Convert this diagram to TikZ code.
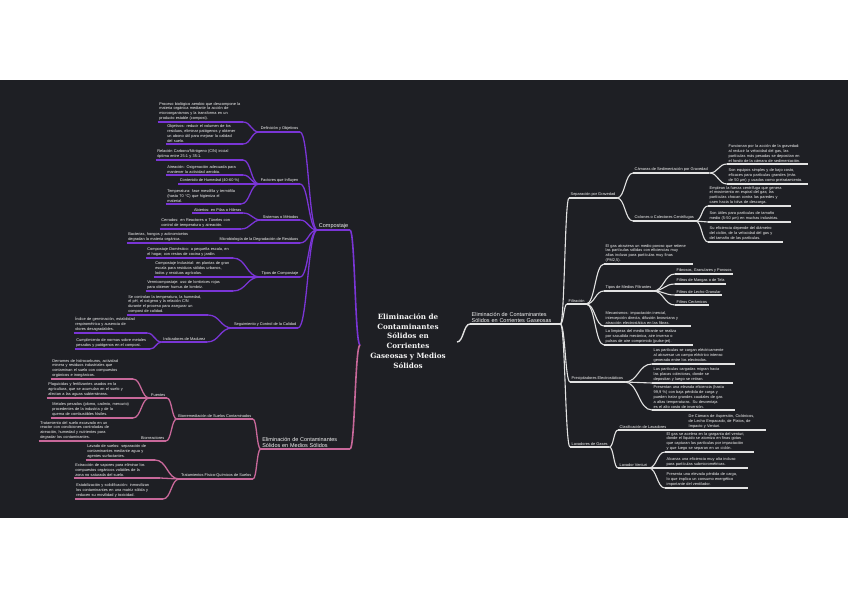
\documentclass[tikz,border=0pt]{standalone}
\usepackage{fontspec}
\newfontfamily\smallf{Liberation Sans}
\newfontfamily\titlef{DejaVu Serif}
\usetikzlibrary{calc}
\definecolor{bgc}{HTML}{1E1F24}
\definecolor{pcol}{HTML}{7A35D6}
\definecolor{kcol}{HTML}{C8689A}
\definecolor{wcol}{HTML}{E2E2E2}
\definecolor{txt}{HTML}{F5F5F5}
\newcommand\conn[3]{\draw[#1] let \p1=(#2), \p2=(#3), \n1={0.5*(\x2-\x1)}, \n2={-0.5*(\x2-\x1)} in (\p1) .. controls +(\n1,0pt) and +(\n2,0pt) .. (\p2);}
\begin{document}
\begin{tikzpicture}[x=1pt,y=-1pt,
  base/.style={font=\smallf\fontsize{3.9}{4.9}\selectfont, text=txt, inner xsep=1.5pt, inner ysep=1.2pt, align=left},
  rn/.style={base, anchor=south west},
  ln/.style={base, anchor=south east},
  big/.style={font=\smallf\fontsize{5.5}{5.9}\selectfont},
  title/.style={font=\titlef\bfseries\fontsize{7.2}{9.8}\selectfont, text=txt, align=center, inner sep=0pt},
  wl/.style={draw=wcol, line width=1.1pt},
  pl/.style={draw=pcol, line width=1.3pt},
  kl/.style={draw=kcol, line width=1.3pt},
  wm/.style={draw=wcol, line width=1.4pt},
  pm/.style={draw=pcol, line width=1.6pt},
  km/.style={draw=kcol, line width=1.6pt}]
\useasboundingbox (0,0) rectangle (848,599);
\fill[white] (0,0) rectangle (848,599);
\fill[bgc] (0,80) rectangle (848,518);

% title
\node[title] (T) at (408,341) {Eliminación de\\Contaminantes\\Sólidos en\\Corrientes\\Gaseosas y Medios\\Sólidos};
\coordinate (TR) at (457,342);
\coordinate (TL) at (360,345);

% ---------------- right side
\node[rn,big,text width=87pt] (R0) at (470,324) {Eliminación de Contaminantes\\Sólidos en Corrientes Gaseosas};
\node[rn] (R1) at (569,198) {Separación por Gravedad};
\node[rn] (R1a) at (633,173) {Cámaras de Sedimentación por Gravedad};
\node[rn,text width=78pt] (R1a1) at (727,164) {Funcionan por la acción de la gravedad:\\al reducir la velocidad del gas, las\\partículas más pesadas se depositan en\\el fondo de la cámara de sedimentación.};
\node[rn,text width=78pt] (R1a2) at (727,184) {Son equipos simples y de bajo costo,\\eficaces para partículas grandes (más\\de 50 µm) y usados como pretratamiento.};
\node[rn] (R1b) at (633,221) {Ciclones o Colectores Centrífugos};
\node[rn,text width=80pt] (R1b1) at (708,206) {Emplean la fuerza centrífuga que genera\\el movimiento en espiral del gas; las\\partículas chocan contra las paredes y\\caen hacia la tolva de descarga.};
\node[rn,text width=80pt] (R1b2) at (708,222) {Son útiles para partículas de tamaño\\medio (5-50 µm) en muchas industrias.};
\node[rn,text width=72pt] (R1b3) at (708,242) {Su eficiencia depende del diámetro\\del ciclón, de la velocidad del gas y\\del tamaño de las partículas.};

\node[rn] (R2) at (567,304) {Filtración};
\node[rn,text width=86pt] (R2a) at (604,264) {El gas atraviesa un medio poroso que retiene\\las partículas sólidas con eficiencias muy\\altas incluso para partículas muy finas\\(PM2,5).};
\node[rn] (R2b) at (604,291) {Tipos de Medios Filtrantes};
\node[rn] (R2b1) at (675,274) {Fibrosos, Granulares y Porosos};
\node[rn] (R2b2) at (675,284) {Filtros de Mangas o de Tela};
\node[rn] (R2b3) at (675,295) {Filtros de Lecho Granular};
\node[rn] (R2b4) at (675,305) {Filtros Cerámicos};
\node[rn,text width=84pt] (R2c) at (604,326) {Mecanismos: impactación inercial,\\intercepción directa, difusión browniana y\\atracción electrostática en las fibras.};
\node[rn,text width=86pt] (R2d) at (604,345) {La limpieza del medio filtrante se realiza\\por sacudida mecánica, aire inverso o\\pulsos de aire comprimido (pulse-jet).};

\node[rn] (R3) at (570,382) {Precipitadores Electrostáticos};
\node[rn,text width=80pt] (R3a) at (652,364) {Las partículas se cargan eléctricamente\\al atravesar un campo eléctrico intenso\\generado entre los electrodos.};
\node[rn,text width=78pt] (R3b) at (652,383) {Las partículas cargadas migran hacia\\las placas colectoras, donde se\\depositan y luego se retiran.};
\node[rn,text width=80pt] (R3c) at (652,410) {Presentan una elevada eficiencia (hasta\\99,9 \%) con baja pérdida de carga y\\pueden tratar grandes caudales de gas\\a altas temperaturas. Su desventaja\\es el alto costo de inversión.};

\node[rn] (R4) at (570,447) {Lavadores de Gases};
\node[rn] (R4a) at (618,430) {Clasificación de Lavadores};
\node[rn,text width=76pt] (R4a1) at (687,430) {De Cámara de Aspersión, Ciclónicos,\\de Lecho Empacado, de Platos, de\\Impacto y Venturi.};
\node[rn] (R4b) at (618,468) {Lavador Venturi};
\node[rn,text width=86pt] (R4b1) at (665,452) {El gas se acelera en la garganta del venturi,\\donde el líquido se atomiza en finas gotas\\que capturan las partículas por impactación\\y que luego se separan en un ciclón.};
\node[rn,text width=80pt] (R4b2) at (665,468) {Alcanza una eficiencia muy alta incluso\\para partículas submicrométricas.};
\node[rn,text width=80pt] (R4b3) at (665,488) {Presenta una elevada pérdida de carga,\\lo que implica un consumo energético\\importante del ventilador.};

% ---------------- left side: Compostaje
\node[ln,big] (L1) at (350,230) {Compostaje};
\node[ln] (L1a) at (300,132) {Definición y Objetivos};
\node[ln,text width=82pt] (L1a1) at (243,122) {Proceso biológico aerobio que descompone la\\materia orgánica mediante la acción de\\microorganismos y la transforma en un\\producto estable (compost).};
\node[ln,text width=74pt] (L1a2) at (243,144) {Objetivos: reducir el volumen de los\\residuos, eliminar patógenos y obtener\\un abono útil para mejorar la calidad\\del suelo.};
\node[ln] (L1b) at (300,184) {Factores que Influyen};
\node[ln,text width=84pt] (L1b1) at (243,160) {Relación Carbono/Nitrógeno (C/N) inicial\\óptima entre 25:1 y 35:1.};
\node[ln,text width=74pt] (L1b2) at (243,175) {Aireación: Oxigenación adecuada para\\mantener la actividad aerobia.};
\node[ln] (L1b3) at (241,184) {Contenido de Humedad (40-60 \%)};
\node[ln,text width=72pt] (L1b4) at (241,204) {Temperatura: fase mesófila y termófila\\(hasta 70 °C) que higieniza el\\material.};
\node[ln] (L1c) at (300,220) {Sistemas o Métodos};
\node[ln] (L1c1) at (243,213) {Abiertos: en Pilas o Hileras};
\node[ln,text width=78pt] (L1c2) at (241,229) {Cerrados: en Reactores o Túneles con\\control de temperatura y aireación.};
\node[ln] (L1d) at (300,243) {Microbiología de la Degradación de Residuos};
\node[ln,text width=78pt] (L1d1) at (208,243) {Bacterias, hongos y actinomicetos\\degradan la materia orgánica.};
\node[ln] (L1e) at (300,277) {Tipos de Compostaje};
\node[ln,text width=84pt] (L1e1) at (233,258) {Compostaje Doméstico: a pequeña escala, en\\el hogar, con restos de cocina y jardín.};
\node[ln,text width=82pt] (L1e2) at (239,277) {Compostaje Industrial: en plantas de gran\\escala para residuos sólidos urbanos,\\lodos y residuos agrícolas.};
\node[ln,text width=84pt] (L1e3) at (233,291) {Vermicompostaje: uso de lombrices rojas\\para obtener humus de lombriz.};
\node[ln] (L1f) at (298,328) {Seguimiento y Control de la Calidad};
\node[ln,text width=78pt] (L1f1) at (208,315) {Se controlan la temperatura, la humedad,\\el pH, el oxígeno y la relación C/N\\durante el proceso para asegurar un\\compost de calidad.};
\node[ln] (L1f2) at (207,342) {Indicadores de Madurez};
\node[ln,text width=70pt] (L1f2a) at (147,333) {Índice de germinación, estabilidad\\respirométrica y ausencia de\\olores desagradables.};
\node[ln,text width=72pt] (L1f2b) at (150,349) {Cumplimiento de normas sobre metales\\pesados y patógenos en el compost.};

% ---------------- left side: medios sólidos
\node[ln,big,text width=86pt] (L2) at (350,449) {Eliminación de Contaminantes\\Sólidos en Medios Sólidos};
\node[ln] (L2a) at (253,419) {Biorremediación de Suelos Contaminados};
\node[ln] (L2a1) at (167,398) {Fuentes};
\node[ln,text width=79pt] (L2a1a) at (133,379) {Derrames de hidrocarburos, actividad\\minera y residuos industriales que\\contaminan el suelo con compuestos\\orgánicos e inorgánicos.};
\node[ln,text width=90pt] (L2a1b) at (140,398) {Plaguicidas y fertilizantes usados en la\\agricultura, que se acumulan en el suelo y\\afectan a las aguas subterráneas.};
\node[ln,text width=79pt] (L2a1c) at (133,418) {Metales pesados (plomo, cadmio, mercurio)\\procedentes de la industria y de la\\quema de combustibles fósiles.};
\node[ln] (L2a2) at (166,441) {Biorreactores};
\node[ln,text width=82pt] (L2a2a) at (124,441) {Tratamiento del suelo excavado en un\\reactor con condiciones controladas de\\aireación, humedad y nutrientes para\\degradar los contaminantes.};
\node[ln] (L2b) at (253,479) {Tratamientos Físico-Químicos de Suelos};
\node[ln,text width=66pt] (L2b1) at (155,460) {Lavado de suelos: separación de\\contaminantes mediante agua y\\agentes surfactantes.};
\node[ln,text width=83pt] (L2b2) at (160,478) {Extracción de vapores para eliminar los\\compuestos orgánicos volátiles de la\\zona no saturada del suelo.};
\node[ln,text width=85pt] (L2b3) at (163,499) {Estabilización y solidificación: inmovilizan\\los contaminantes en una matriz sólida y\\reducen su movilidad y toxicidad.};

% ---------------- underlines
\draw[wm] (R0.south west) -- (R0.south east);
\draw[pm] (L1.south west) -- (L1.south east);
\draw[km] (L2.south west) -- (L2.south east);
\foreach \aa in {R1,R1a,R1a1,R1a2,R1b,R1b1,R1b2,R1b3,R2,R2a,R2b,R2b1,R2b2,R2b3,R2b4,R2c,R2d,R3,R3a,R3b,R3c,R4,R4a,R4a1,R4b,R4b1,R4b2,R4b3}
  {\draw[wl] (\aa.south west) -- (\aa.south east);}
\foreach \aa in {L1a,L1a1,L1a2,L1b,L1b1,L1b2,L1b3,L1b4,L1c,L1c1,L1c2,L1d,L1d1,L1e,L1e1,L1e2,L1e3,L1f,L1f1,L1f2,L1f2a,L1f2b}
  {\draw[pl] (\aa.south west) -- (\aa.south east);}
\foreach \aa in {L2a,L2a1,L2a1a,L2a1b,L2a1c,L2a2,L2a2a,L2b,L2b1,L2b2,L2b3}
  {\draw[kl] (\aa.south west) -- (\aa.south east);}

% ---------------- connectors
\conn{wm}{TR}{R0.south west}
\conn{pm}{TL}{L1.south east}
\conn{km}{TL}{L2.south east}
\foreach \aa/\bb in {R0/R1,R0/R2,R0/R3,R0/R4,R1/R1a,R1/R1b,R1a/R1a1,R1a/R1a2,R1b/R1b1,R1b/R1b2,R1b/R1b3,R2/R2a,R2/R2b,R2/R2c,R2/R2d,R2b/R2b1,R2b/R2b2,R2b/R2b3,R2b/R2b4,R3/R3a,R3/R3b,R3/R3c,R4/R4a,R4/R4b,R4a/R4a1,R4b/R4b1,R4b/R4b2,R4b/R4b3}
  {\conn{wl}{\aa.south east}{\bb.south west}}
\foreach \aa/\bb in {L1/L1a,L1/L1b,L1/L1c,L1/L1d,L1/L1e,L1/L1f,L1a/L1a1,L1a/L1a2,L1b/L1b1,L1b/L1b2,L1b/L1b3,L1b/L1b4,L1c/L1c1,L1c/L1c2,L1d/L1d1,L1e/L1e1,L1e/L1e2,L1e/L1e3,L1f/L1f1,L1f/L1f2,L1f2/L1f2a,L1f2/L1f2b}
  {\conn{pl}{\aa.south west}{\bb.south east}}
\foreach \aa/\bb in {L2/L2a,L2/L2b,L2a/L2a1,L2a/L2a2,L2a1/L2a1a,L2a1/L2a1b,L2a1/L2a1c,L2a2/L2a2a,L2b/L2b1,L2b/L2b2,L2b/L2b3}
  {\conn{kl}{\aa.south west}{\bb.south east}}
\end{tikzpicture}
\end{document}
